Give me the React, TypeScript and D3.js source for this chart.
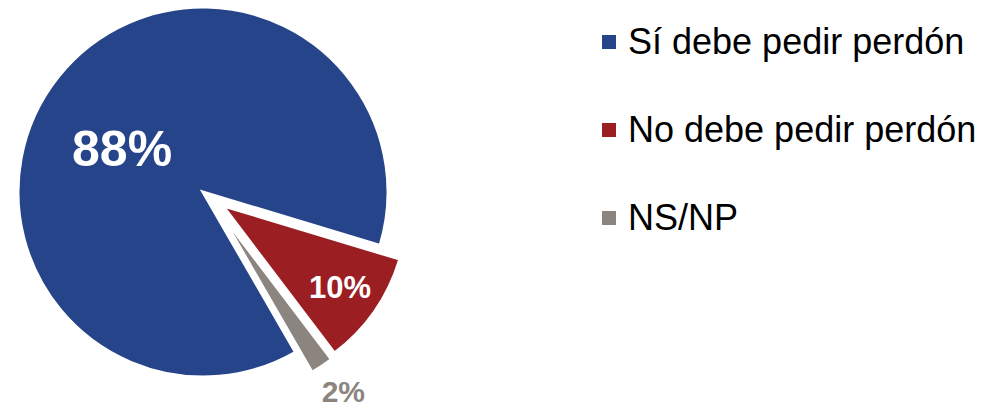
import React, { useRef, useEffect } from 'react'
import * as d3 from 'd3'

// chart data
const categories = ['Sí debe pedir perdón', 'No debe pedir perdón', 'NS/NP']
const values = [88, 10, 2]
const labels = ['88%', '10%', '2%']
const colors = ['#26448A', '#9B1E23', '#8C857F']

const App = () => {
  const svgRef = useRef<SVGSVGElement>(null)

  useEffect(() => {
    const w = 995
    const h = 405
    const cx = 203
    const cy = 192
    const r = 185
    const font = '"Liberation Sans", Arial, sans-serif'

    const svg = d3.select(svgRef.current)
      .attr('width', w)
      .attr('height', h)
    svg.selectAll('*').remove()

    const deg = Math.PI / 180
    const pie = d3.pie<number>()
      .sort(null)
      .startAngle(150 * deg)
      .endAngle(510 * deg)
    const arcs = pie(values)

    const arc = d3.arc<d3.PieArcDatum<number>>()
      .innerRadius(0)
      .outerRadius(r)

    // exploded slices (red + gray pulled out)
    const explode = [0, 24, 26]
    const shift = [0, 0, -6 * deg]
    // label placement per slice
    const labelR = [92, 143, 218]
    const labelTurn = [-10 * deg, 0, -1 * deg]
    const labelSize = [50, 31, 30]
    const labelColor = ['#fff', '#fff', colors[2]]

    const g = svg.append('g').attr('transform', `translate(${cx},${cy})`)

    const slices = g.selectAll('g.slice')
      .data(arcs)
      .join('g')
        .attr('class', 'slice')
        .attr('transform', (d, i) => {
          const a = (d.startAngle + d.endAngle) / 2 + shift[i]
          return `translate(${explode[i] * Math.sin(a)},${-explode[i] * Math.cos(a)})`
        })

    slices.append('path')
      .attr('d', d => arc(d))
      .attr('fill', (d, i) => colors[i])
      .attr('stroke', '#fff')
      .attr('stroke-width', 3)
      .attr('stroke-linejoin', 'miter')

    const mid = (d: d3.PieArcDatum<number>, i: number) => (d.startAngle + d.endAngle) / 2 + labelTurn[i]

    slices.append('text')
      .attr('x', (d, i) => labelR[i] * Math.sin(mid(d, i)))
      .attr('y', (d, i) => -labelR[i] * Math.cos(mid(d, i)))
      .attr('dy', '0.36em')
      .attr('text-anchor', 'middle')
      .attr('font-family', font)
      .attr('font-weight', 'bold')
      .attr('font-size', (d, i) => labelSize[i])
      .attr('fill', (d, i) => labelColor[i])
      .text((d, i) => labels[i])

    // legend
    const legend = svg.append('g').attr('transform', 'translate(602,0)')
    const rowY = d3.scalePoint<string>()
      .domain(categories)
      .range([54, 230])

    const rows = legend.selectAll('g.row')
      .data(categories)
      .join('g')
        .attr('class', 'row')
        .attr('transform', d => `translate(0,${rowY(d)})`)

    rows.append('rect')
      .attr('x', 0)
      .attr('y', -19)
      .attr('width', 14)
      .attr('height', 14)
      .attr('fill', (d, i) => colors[i])

    rows.append('text')
      .attr('x', 26)
      .attr('y', 0)
      .attr('font-family', font)
      .attr('font-size', 36)
      .attr('fill', '#000')
      .text(d => d)
  }, [])

  return (
    <div className='App'>
      <svg ref={svgRef} style={{ position: 'absolute', left: 0, top: 0 }}></svg>
    </div>
  )
}

export default App
